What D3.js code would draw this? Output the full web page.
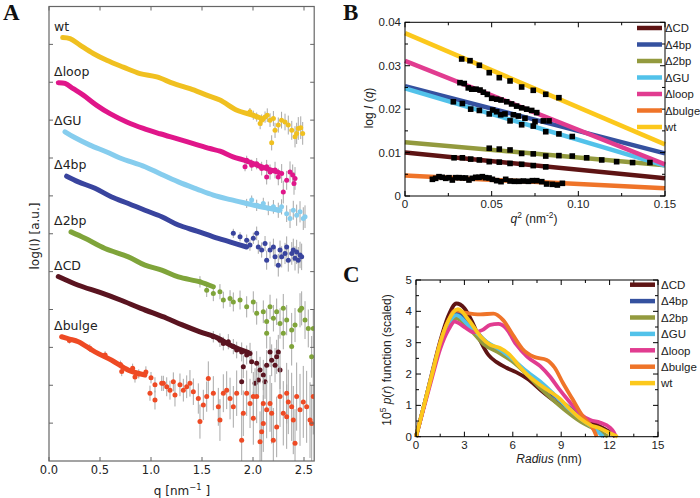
<!DOCTYPE html>
<html><head><meta charset="utf-8">
<script src="https://cdn.jsdelivr.net/npm/d3@7"></script>
<style>body{margin:0;background:#fff}svg{display:block}</style>
</head><body>
<svg id="fig" width="700" height="498"></svg>
<script>
// ================= DATA =================
// Panel A: SAXS curves (q [nm^-1], log I [a.u., offset]); trend = dense part, tail = [q, logI, err]
const saxsNames = ["wt","Δloop","ΔGU","Δ4bp","Δ2bp","ΔCD","Δbulge"];
const saxsQTicks = [0.0,0.5,1.0,1.5,2.0,2.5];
const saxsYTicks = [1,2,3,4,5,6,7,8,9,10,11];
const trendWt = [[0.134,11.18],[0.206,11.15],[0.304,10.98],[0.434,10.76],[0.566,10.58],[0.728,10.4],[0.892,10.23],[1.056,10.14],[1.219,9.97],[1.382,9.83],[1.546,9.66],[1.676,9.53],[1.843,9.26],[2.0,9.13],[2.098,9.03]];
const trendLoop = [[0.091,9.99],[0.157,9.97],[0.238,9.83],[0.336,9.66],[0.468,9.39],[0.598,9.17],[0.762,8.95],[0.925,8.78],[1.088,8.64],[1.252,8.51],[1.415,8.38],[1.578,8.25],[1.676,8.18],[1.804,8.03],[1.94,7.92],[2.1,7.75],[2.25,7.62]];
const trendGU = [[0.157,8.69],[0.238,8.56],[0.402,8.34],[0.566,8.16],[0.696,8.0],[0.941,7.77],[1.1,7.57],[1.268,7.37],[1.45,7.18],[1.611,7.02],[1.78,6.9],[1.938,6.8],[2.1,6.7],[2.265,6.62]];
const trend4bp = [[0.173,7.52],[0.288,7.37],[0.451,7.2],[0.615,6.97],[0.778,6.8],[0.941,6.62],[1.105,6.45],[1.268,6.23],[1.45,6.07],[1.611,5.92],[1.78,5.78],[1.938,5.65]];
const trend2bp = [[0.216,6.05],[0.353,5.88],[0.549,5.61],[0.778,5.39],[0.941,5.17],[1.105,5.04],[1.268,4.86],[1.48,4.73],[1.611,4.6]];
const trendCD = [[0.091,4.87],[0.288,4.64],[0.5,4.45],[0.7,4.25],[0.9,4.03],[1.154,3.77],[1.3,3.6],[1.48,3.41],[1.65,3.25],[1.8,3.03],[1.95,2.87]];
const trendBulge = [[0.124,3.28],[0.2,3.22],[0.288,3.15],[0.451,2.88],[0.615,2.66],[0.778,2.4],[0.941,2.27]];
const tailWt = [[1.97,9.22,0.1],[2.003,9.13,0.12],[2.036,9.08,0.12],[2.07,8.91,0.15],[2.085,9.0,0.15],[2.118,9.08,0.15],[2.14,9.13,0.18],[2.167,9.0,0.18],[2.183,8.4,0.2],[2.2,9.04,0.2],[2.216,8.73,0.2],[2.248,8.87,0.2],[2.28,9.0,0.22],[2.314,8.95,0.22],[2.346,8.87,0.25],[2.38,8.73,0.25],[2.412,8.56,0.28],[2.428,8.65,0.28],[2.444,8.78,0.3],[2.468,8.8,0.3],[2.487,8.65,0.3]];
const tailLoop = [[1.922,7.77,0.12],[1.938,7.94,0.12],[1.987,7.81,0.15],[2.036,7.85,0.15],[2.085,7.72,0.18],[2.134,7.77,0.18],[2.134,7.5,0.2],[2.167,7.63,0.2],[2.216,7.68,0.22],[2.248,7.5,0.22],[2.281,7.59,0.25],[2.297,7.1,0.3],[2.33,7.41,0.25],[2.363,7.63,0.28],[2.389,7.55,0.28],[2.402,7.33,0.3],[2.412,7.46,0.3]];
const tailGU = [[1.938,6.8,0.12],[1.987,6.89,0.12],[2.036,6.75,0.15],[2.101,6.8,0.15],[2.15,6.67,0.18],[2.2,6.71,0.18],[2.248,6.62,0.2],[2.28,6.71,0.2],[2.33,6.53,0.22],[2.363,6.4,0.25],[2.395,6.62,0.25],[2.428,6.49,0.28],[2.461,6.58,0.28],[2.493,6.4,0.3],[2.51,6.45,0.3]];
const tail4bp = [[1.807,6.01,0.12],[1.873,5.92,0.12],[1.938,5.83,0.15],[1.97,5.7,0.15],[2.003,5.88,0.15],[2.036,6.01,0.18],[2.052,5.65,0.18],[2.085,5.57,0.2],[2.118,5.74,0.2],[2.134,5.3,0.25],[2.167,5.57,0.22],[2.2,5.65,0.22],[2.216,5.39,0.25],[2.248,5.17,0.3],[2.265,5.57,0.25],[2.281,5.39,0.28],[2.314,5.48,0.28],[2.33,5.65,0.28],[2.346,5.3,0.3],[2.38,5.48,0.3],[2.395,5.57,0.3],[2.412,5.35,0.32],[2.428,5.52,0.32],[2.444,5.3,0.35],[2.461,5.44,0.35],[2.477,5.39,0.35]];
const tail2bp = [[1.48,4.73,0.15],[1.546,4.51,0.18],[1.611,4.42,0.2],[1.676,4.47,0.2],[1.709,4.25,0.22],[1.775,4.29,0.22],[1.807,4.2,0.25],[1.873,4.25,0.25],[1.938,4.07,0.28],[2.003,4.2,0.28],[2.036,3.9,0.3],[2.101,3.94,0.3],[2.134,3.68,0.35],[2.134,3.37,0.4],[2.167,4.07,0.32],[2.2,3.77,0.35],[2.232,3.94,0.35],[2.265,3.63,0.4],[2.297,4.03,0.38],[2.297,3.37,0.42],[2.33,3.72,0.4],[2.379,3.46,0.45],[2.379,3.02,0.5],[2.412,3.59,0.45],[2.461,3.98,0.45],[2.477,4.03,0.45],[2.51,3.72,0.5],[2.542,3.5,0.5],[2.575,2.75,0.55],[2.591,3.5,0.5]];
const tailCD = [[1.611,3.28,0.15],[1.676,3.19,0.18],[1.709,3.1,0.18],[1.758,3.15,0.2],[1.807,3.02,0.2],[1.84,2.93,0.22],[1.889,2.88,0.25],[1.905,2.49,0.3],[1.889,2.09,0.35],[1.938,2.8,0.25],[1.971,2.84,0.28],[1.987,2.62,0.3],[2.02,2.05,0.4],[2.036,2.58,0.32],[2.052,2.14,0.4],[2.069,2.4,0.35],[2.101,2.27,0.4],[2.118,2.09,0.45],[2.134,2.53,0.4],[2.167,2.88,0.4],[2.183,2.66,0.42],[2.216,2.53,0.45],[2.232,2.75,0.45],[2.248,2.88,0.45],[2.265,2.4,0.5]];
const tailBulge = [[0.2,3.18,0.08],[0.4,2.98,0.1],[0.55,2.8,0.1],[0.7,2.55,0.1],[0.713,2.36,0.12],[0.82,2.45,0.12],[0.843,2.22,0.15],[0.88,2.3,0.12],[0.95,2.35,0.15],[1.0,2.2,0.15],[0.99,1.79,0.2],[1.039,1.61,0.25],[1.039,2.01,0.2],[1.105,2.05,0.2],[1.121,2.05,0.2],[1.154,1.96,0.25],[1.186,1.87,0.25],[1.219,2.09,0.25],[1.235,1.74,0.3],[1.284,2.01,0.3],[1.317,1.87,0.3],[1.35,1.96,0.3],[1.382,2.05,0.35],[1.415,1.83,0.35],[1.464,1.65,0.4],[1.48,1.04,0.45],[1.513,1.48,0.4],[1.546,1.7,0.4],[1.562,2.18,0.45],[1.611,1.79,0.45],[1.66,1.43,0.5],[1.676,1.08,0.55],[1.709,1.79,0.5],[1.742,1.87,0.5],[1.775,1.65,0.55],[1.807,1.43,0.55],[1.84,1.79,0.6],[1.889,0.55,0.7],[1.905,1.26,0.6],[1.938,1.79,0.6],[1.971,1.52,0.65],[2.003,1.13,0.7],[2.003,1.7,0.65],[2.036,1.7,0.7],[2.069,0.51,0.8],[2.085,0.77,0.8],[2.101,0.99,0.75],[2.101,1.52,0.7],[2.134,1.35,0.75],[2.167,1.52,0.75],[2.183,1.26,0.8],[2.199,0.55,0.85],[2.232,0.9,0.8],[2.265,1.7,0.8],[2.297,1.26,0.85],[2.33,1.17,0.85],[2.33,1.79,0.8],[2.346,1.56,0.85],[2.379,1.43,0.9],[2.395,1.08,0.9],[2.412,0.47,0.9],[2.428,1.7,0.9],[2.461,1.35,0.95],[2.493,1.56,0.95],[2.526,1.43,0.95],[2.559,1.08,1.0],[2.575,0.99,1.0],[2.591,1.7,1.0]];
const saxsTrends = [trendWt,trendLoop,trendGU,trend4bp,trend2bp,trendCD,trendBulge];
const saxsTails = [tailWt,tailLoop,tailGU,tail4bp,tail2bp,tailCD,tailBulge];

// Panel B: Guinier plots (q^2 [nm^-2], log I(q))
const guinierNames = ["ΔCD","Δ4bp","Δ2bp","ΔGU","Δloop","Δbulge","wt"];
const guinierFitStart = [0.0100,0.0253,0.0124,0.0248,0.0311,0.0047,0.0375];
const guinierFitEnd = [0.0041,0.0098,0.0071,0.0070,0.0073,0.0018,0.0119];
const guinierXTicks = [0,0.05,0.10,0.15];
const guinierXTickLabels = ["0","0.05","0.10","0.15"];
const guinierYTicks = [0,0.01,0.02,0.03,0.04];
const guinierYTickLabels = ["0","0.01","0.02","0.03","0.04"];
const ptsCD = [[0.0283,0.0088],[0.0331,0.0088],[0.0379,0.0085],[0.0429,0.0083],[0.0486,0.0079],[0.0544,0.0078],[0.0606,0.0075],[0.0673,0.0073],[0.074,0.0070],[0.0812,0.0067]];
const pts4bp = [[0.0279,0.0217],[0.0331,0.0213],[0.0506,0.0198],[0.0529,0.0194],[0.0577,0.0189],[0.0625,0.0187],[0.0654,0.0184],[0.0692,0.0179],[0.075,0.0171],[0.0798,0.0173],[0.0831,0.0173]];
const pts2bp = [[0.0486,0.0110],[0.0544,0.0108],[0.0606,0.0106],[0.0673,0.0098],[0.074,0.0097],[0.0812,0.0092],[0.0888,0.0093],[0.0965,0.0092],[0.1048,0.0088],[0.1135,0.0083],[0.1221,0.0079],[0.1313,0.0077],[0.1413,0.0077]];
const ptsGU = [[0.0379,0.0200],[0.0429,0.0197],[0.0486,0.0189],[0.0552,0.0187],[0.0606,0.0173],[0.0673,0.0164],[0.074,0.0161],[0.0812,0.0148],[0.0888,0.0143],[0.0965,0.0137]];
const ptsLoop = [[0.0317,0.0261],[0.0342,0.0259],[0.0365,0.0249],[0.0385,0.0246],[0.041,0.0246],[0.0433,0.0244],[0.0452,0.0239],[0.0475,0.0234],[0.05,0.0225],[0.0529,0.0223],[0.0554,0.0221],[0.0587,0.0217],[0.0615,0.0212],[0.0644,0.0207],[0.0673,0.0203],[0.0702,0.0200],[0.0731,0.0197],[0.076,0.0192]];
const ptsBulge = [[0.0158,0.00384],[0.0177,0.00407],[0.0196,0.00445],[0.0215,0.0043],[0.0235,0.00407],[0.0254,0.00422],[0.0273,0.00368],[0.0292,0.00422],[0.0312,0.00422],[0.0331,0.00415],[0.035,0.00415],[0.0369,0.00368],[0.0388,0.00407],[0.0408,0.0043],[0.0427,0.0043],[0.0446,0.00445],[0.0465,0.00422],[0.0485,0.00415],[0.0504,0.00384],[0.0529,0.00353],[0.0554,0.0033],[0.0581,0.00384],[0.0606,0.00345],[0.0631,0.00338],[0.0658,0.00338],[0.0683,0.00345],[0.0712,0.00338],[0.0735,0.00353],[0.076,0.00353],[0.0789,0.0033],[0.0817,0.00276],[0.085,0.00269],[0.0879,0.00253],[0.0908,0.00292]];
const ptsWt = [[0.0327,0.03155],[0.0375,0.03116],[0.0429,0.0301],[0.0486,0.0284],[0.0544,0.02725],[0.0606,0.02649],[0.0673,0.0251],[0.074,0.02434],[0.0812,0.02342],[0.0888,0.02264]];
const guinierPoints = [ptsCD,pts4bp,pts2bp,ptsGU,ptsLoop,ptsBulge,ptsWt];

// Panel C: pair distance distributions (r [nm], 10^5 p(r))
const prNames = ["ΔCD","Δ4bp","Δ2bp","ΔGU","Δloop","Δbulge","wt"];
const prXTicks = [0,3,6,9,12,15];
const prYTicks = [0,1,2,3,4,5];
const prCD = [[0,0],[0.5,1.0],[1,2.05],[1.5,3.05],[2,3.85],[2.5,4.25],[3.0,4.1],[3.5,3.65],[4.0,3.05],[4.5,2.6],[5,2.38],[5.6,2.2],[6.2,2.06],[6.9,1.85],[7.7,1.5],[8.5,1.17],[9.3,0.9],[10.1,0.65],[10.9,0.45],[11.6,0.27],[12.1,0.11],[12.35,0]];
const pr4bp = [[0,0],[0.5,1.0],[1,2.0],[1.5,2.95],[2,3.65],[2.6,3.96],[3.3,3.62],[4.2,3.1],[5.2,2.72],[6.0,2.45],[6.9,2.02],[7.7,1.65],[8.5,1.33],[9.3,1.01],[10.2,0.62],[11.0,0.3],[11.5,0.1],[11.7,0]];
const pr2bp = [[0,0],[0.5,1.0],[1,2.0],[1.5,2.9],[2,3.5],[2.5,3.78],[3.3,3.45],[4.2,2.95],[5.2,2.66],[6.0,2.39],[6.9,1.97],[7.7,1.55],[8.5,1.17],[9.3,0.82],[10.2,0.48],[11.0,0.26],[11.6,0.1],[11.9,0]];
const prGU = [[0,0],[0.5,1.0],[1,2.0],[1.5,2.95],[2,3.6],[2.5,3.88],[3.3,3.52],[4.4,3.02],[5.2,2.78],[6.0,2.47],[6.9,2.07],[7.7,1.76],[8.5,1.38],[9.3,0.97],[10.2,0.58],[11.0,0.27],[11.4,0.1],[11.6,0]];
const prLoop = [[0,0],[0.5,0.95],[1,1.9],[1.5,2.8],[2,3.4],[2.4,3.67],[3.0,3.5],[3.6,3.33],[4.1,3.4],[4.6,3.57],[5.1,3.6],[5.6,3.45],[6.2,2.95],[6.9,2.55],[7.7,2.25],[8.3,1.92],[8.9,1.5],[9.5,1.12],[10.2,0.72],[10.8,0.53],[11.4,0.45],[12.0,0.3],[12.25,0.15],[12.4,0]];
const prBulge = [[0,0],[0.5,1.0],[1,2.0],[1.5,3.0],[2,3.7],[2.4,4.03],[3.1,3.95],[4.0,3.9],[4.8,3.93],[5.4,3.72],[6.0,3.25],[6.6,2.8],[7.3,2.55],[8.1,2.45],[8.6,2.2],[9.1,1.72],[9.7,1.2],[10.3,0.68],[10.8,0.38],[11.05,0.18],[11.2,0]];
const prWt = [[0,0],[0.5,1.0],[1,2.0],[1.5,3.0],[2,3.7],[2.6,4.07],[3.3,3.7],[4.0,3.2],[4.6,2.93],[5.2,2.83],[5.8,2.62],[6.4,2.25],[7.0,1.93],[7.7,1.65],[8.3,1.44],[8.9,1.22],[9.5,0.9],[10.2,0.57],[10.8,0.37],[11.4,0.27],[12.0,0.12],[12.5,0]];
const prSeries = [prCD,pr4bp,pr2bp,prGU,prLoop,prBulge,prWt];

// ================= STYLES =================
const saxsColors = ["#f0c020","#e0168a","#86cdee","#39449e","#7fa43a","#5a1420","#ee4a24"];
const bcColors = {"ΔCD":"#5e1414","Δ4bp":"#35519f","Δ2bp":"#939a3e","ΔGU":"#52c2ea","Δloop":"#e13c90","Δbulge":"#ef7429","wt":"#fcc81c"};
const fA = "'DejaVu Sans', sans-serif";
const fB = "'Liberation Sans', Arial, sans-serif";

const svg = d3.select("#fig");

function rich(sel, parts, size){
  let up = false;
  parts.forEach(p => {
    const ts = sel.append("tspan").text(p.t);
    if (p.i) ts.attr("font-style","italic");
    if (p.s) { ts.attr("font-size", size*0.7).attr("dy", up ? 0 : -size*0.42); up = true; }
    else if (up) { ts.attr("dy", size*0.42); up = false; }
  });
}

// ================= PANEL A =================
(function(){
  const x = d3.scaleLinear().domain([0,2.6]).range([49,314.2]);
  const y = d3.scaleLinear().domain([0,12]).range([461,6.5]);
  const g = svg.append("g");
  g.append("clipPath").attr("id","clipA").append("rect")
    .attr("x",x(0)).attr("y",y(12)).attr("width",x(2.6)-x(0)).attr("height",y(0)-y(12));
  const plot = g.append("g").attr("clip-path","url(#clipA)");
  const line = d3.line().x(d=>x(d[0])).y(d=>y(d[1])).curve(d3.curveCatmullRom);
  saxsNames.forEach((name,i)=>{
    const tail = saxsTails[i], trend = saxsTrends[i], col = saxsColors[i];
    plot.selectAll(null).data(tail).enter().append("line")
      .attr("x1",d=>x(d[0])).attr("x2",d=>x(d[0]))
      .attr("y1",d=>y(d[1]-d[2])).attr("y2",d=>y(d[1]+d[2]))
      .attr("stroke","#a8a8a8").attr("stroke-width",1);
    plot.append("path").datum(trend).attr("d",line).attr("fill","none")
      .attr("stroke",col).attr("stroke-width",5).attr("stroke-linecap","round").attr("stroke-linejoin","round");
    plot.selectAll(null).data(tail).enter().append("circle")
      .attr("cx",d=>x(d[0])).attr("cy",d=>y(d[1])).attr("r",2.5).attr("fill",col);
    g.append("text").attr("x",x(0.05)).attr("y",y(trend[0][1])-7)
      .attr("font-family",fA).attr("font-size",12.5).attr("fill","#222").text(name);
  });
  // frame & ticks
  g.append("rect").attr("x",x(0)).attr("y",y(12)).attr("width",x(2.6)-x(0)).attr("height",y(0)-y(12))
    .attr("fill","none").attr("stroke","#666").attr("stroke-width",1.2);
  saxsQTicks.forEach(q=>{
    g.append("line").attr("x1",x(q)).attr("x2",x(q)).attr("y1",y(0)).attr("y2",y(0)-4).attr("stroke","#666");
    g.append("line").attr("x1",x(q)).attr("x2",x(q)).attr("y1",y(12)).attr("y2",y(12)+4).attr("stroke","#666");
    g.append("text").attr("x",x(q)).attr("y",474).attr("text-anchor","middle")
      .attr("font-family",fA).attr("font-size",11.5).attr("fill","#222").text(d3.format(".1f")(q));
  });
  saxsYTicks.forEach(v=>{
    g.append("line").attr("x1",x(0)).attr("x2",x(0)+4).attr("y1",y(v)).attr("y2",y(v)).attr("stroke","#666");
    g.append("line").attr("x1",x(2.6)).attr("x2",x(2.6)-4).attr("y1",y(v)).attr("y2",y(v)).attr("stroke","#666");
  });
  const xl = g.append("text").attr("x",182).attr("y",495).attr("text-anchor","middle")
    .attr("font-family",fA).attr("font-size",12).attr("fill","#222");
  rich(xl,[{t:"q [nm"},{t:"−1",s:true},{t:" ]"}],12);
  g.append("text").attr("transform","translate(39,236) rotate(-90)").attr("text-anchor","middle")
    .attr("font-family",fA).attr("font-size",12).attr("fill","#222").text("log(I) [a.u.]");
})();

// ================= PANEL B =================
(function(){
  const x = d3.scaleLinear().domain([0,0.15]).range([405,665]);
  const y = d3.scaleLinear().domain([0,0.04]).range([196,22.3]);
  const g = svg.append("g");
  guinierNames.forEach((name,i)=>{
    g.append("line").attr("x1",x(0)).attr("x2",x(0.15))
      .attr("y1",y(guinierFitStart[i])).attr("y2",y(guinierFitEnd[i]))
      .attr("stroke",bcColors[name]).attr("stroke-width",4.5);
  });
  guinierPoints.forEach(pts=>{
    g.selectAll(null).data(pts).enter().append("rect")
      .attr("x",d=>x(d[0])-2.8).attr("y",d=>y(d[1])-2.8).attr("width",5.6).attr("height",5.6).attr("fill","#000");
  });
  g.append("rect").attr("x",x(0)).attr("y",y(0.04)).attr("width",x(0.15)-x(0)).attr("height",y(0)-y(0.04))
    .attr("fill","none").attr("stroke","#000").attr("stroke-width",1);
  d3.range(0,0.1501,0.025).forEach((t,k)=>{
    const L = k%2===0?5:3;
    g.append("line").attr("x1",x(t)).attr("x2",x(t)).attr("y1",y(0)).attr("y2",y(0)-L).attr("stroke","#000");
    g.append("line").attr("x1",x(t)).attr("x2",x(t)).attr("y1",y(0.04)).attr("y2",y(0.04)+L).attr("stroke","#000");
  });
  d3.range(0,0.0401,0.005).forEach((t,k)=>{
    const L = k%2===0?5:3;
    g.append("line").attr("x1",x(0)).attr("x2",x(0)+L).attr("y1",y(t)).attr("y2",y(t)).attr("stroke","#000");
    g.append("line").attr("x1",x(0.15)).attr("x2",x(0.15)-L).attr("y1",y(t)).attr("y2",y(t)).attr("stroke","#000");
  });
  guinierXTicks.forEach((t,k)=>{
    g.append("text").attr("x",x(t)).attr("y",208).attr("text-anchor","middle")
      .attr("font-family",fB).attr("font-size",11.5).attr("fill","#222").text(guinierXTickLabels[k]);
  });
  guinierYTicks.forEach((t,k)=>{
    g.append("text").attr("x",401).attr("y",y(t)+4).attr("text-anchor","end")
      .attr("font-family",fB).attr("font-size",11.5).attr("fill","#222").text(guinierYTickLabels[k]);
  });
  // legend
  guinierNames.forEach((name,i)=>{
    const yy = 28 + i*16.5;
    g.append("line").attr("x1",637).attr("x2",662).attr("y1",yy).attr("y2",yy)
      .attr("stroke",bcColors[name]).attr("stroke-width",4.5);
    g.append("text").attr("x",665).attr("y",yy+4.2).attr("font-family",fB).attr("font-size",11.3)
      .attr("fill","#222").text(name);
  });
  const yl = g.append("text").attr("transform","translate(373,108) rotate(-90)").attr("text-anchor","middle")
    .attr("font-family",fB).attr("font-size",12).attr("fill","#222");
  rich(yl,[{t:"log "},{t:"I",i:true},{t:" ("},{t:"q",i:true},{t:")"}],12);
  const xl = g.append("text").attr("x",534).attr("y",223).attr("text-anchor","middle")
    .attr("font-family",fB).attr("font-size",12).attr("fill","#222");
  rich(xl,[{t:"q",i:true},{t:"2",s:true},{t:" (nm"},{t:"-2",s:true},{t:")"}],12);
})();

// ================= PANEL C =================
(function(){
  const x = d3.scaleLinear().domain([0,15]).range([416,658]);
  const y = d3.scaleLinear().domain([0,5]).range([436.7,280]);
  const g = svg.append("g");
  const line = d3.line().x(d=>x(d[0])).y(d=>y(d[1])).curve(d3.curveMonotoneX);
  prNames.forEach((name,i)=>{
    g.append("path").datum(prSeries[i]).attr("d",line).attr("fill","none")
      .attr("stroke",bcColors[name]).attr("stroke-width",3.8).attr("stroke-linejoin","round");
  });
  g.append("rect").attr("x",x(0)).attr("y",y(5)).attr("width",x(15)-x(0)).attr("height",y(0)-y(5))
    .attr("fill","none").attr("stroke","#000").attr("stroke-width",1);
  d3.range(0,15.01,1.5).forEach((t,k)=>{
    const L = k%2===0?5:3;
    g.append("line").attr("x1",x(t)).attr("x2",x(t)).attr("y1",y(0)).attr("y2",y(0)-L).attr("stroke","#000");
    g.append("line").attr("x1",x(t)).attr("x2",x(t)).attr("y1",y(5)).attr("y2",y(5)+L).attr("stroke","#000");
  });
  d3.range(0,5.01,0.5).forEach((t,k)=>{
    const L = k%2===0?5:3;
    g.append("line").attr("x1",x(0)).attr("x2",x(0)+L).attr("y1",y(t)).attr("y2",y(t)).attr("stroke","#000");
    g.append("line").attr("x1",x(15)).attr("x2",x(15)-L).attr("y1",y(t)).attr("y2",y(t)).attr("stroke","#000");
  });
  prXTicks.forEach(t=>{
    g.append("text").attr("x",x(t)).attr("y",449).attr("text-anchor","middle")
      .attr("font-family",fB).attr("font-size",11.5).attr("fill","#222").text(t);
  });
  prYTicks.forEach(t=>{
    g.append("text").attr("x",412).attr("y",y(t)+4).attr("text-anchor","end")
      .attr("font-family",fB).attr("font-size",11.5).attr("fill","#222").text(t);
  });
  prNames.forEach((name,i)=>{
    const yy = 284.7 + i*16.4;
    g.append("line").attr("x1",630).attr("x2",655).attr("y1",yy).attr("y2",yy)
      .attr("stroke",bcColors[name]).attr("stroke-width",4.5);
    g.append("text").attr("x",661).attr("y",yy+4.2).attr("font-family",fB).attr("font-size",11.5)
      .attr("fill","#222").text(name);
  });
  const yl = g.append("text").attr("transform","translate(391,360) rotate(-90)").attr("text-anchor","middle")
    .attr("font-family",fB).attr("font-size",12).attr("fill","#222");
  rich(yl,[{t:"10"},{t:"5",s:true},{t:" "},{t:"p",i:true},{t:"("},{t:"r",i:true},{t:") function (scaled)"}],12);
  const xl = g.append("text").attr("x",549).attr("y",463).attr("text-anchor","middle")
    .attr("font-family",fB).attr("font-size",12).attr("fill","#222");
  rich(xl,[{t:"Radius",i:true},{t:" (nm)"}],12);
})();

// ================= PANEL LETTERS =================
[["A",3,20],["B",343,20],["C",343,282]].forEach(([t,xx,yy])=>{
  svg.append("text").attr("x",xx).attr("y",yy).attr("font-family","'Liberation Serif', 'Times New Roman', serif")
    .attr("font-weight","bold").attr("font-size",23).attr("fill","#111").text(t);
});
</script>
</body></html>
